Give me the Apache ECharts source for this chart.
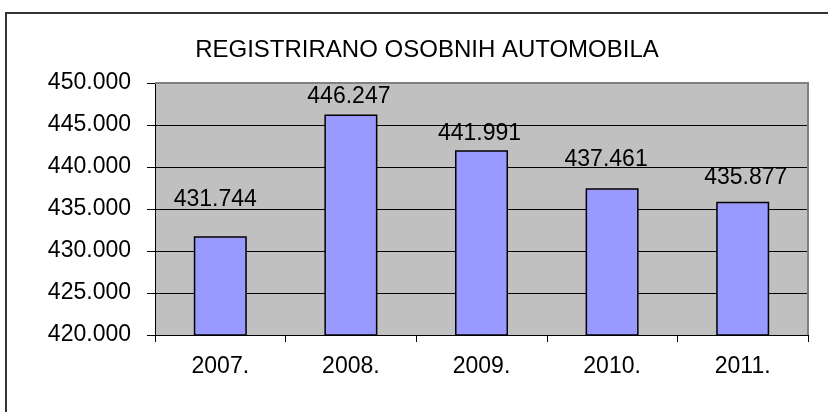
<!DOCTYPE html>
<html>
<head>
<meta charset="utf-8">
<script src="https://cdn.jsdelivr.net/npm/echarts@6/dist/echarts.min.js"></script>
<style>
  html, body { margin: 0; padding: 0; background: #ffffff; }
  #chart { width: 828px; height: 412px; }
</style>
</head>
<body>
<div id="chart"></div>
<script>
// Registered passenger cars per year
const years = ['2007.', '2008.', '2009.', '2010.', '2011.'];
const registered = [431744, 446247, 441991, 437461, 435877];
const yTicks = [420000, 425000, 430000, 435000, 440000, 445000, 450000];
const chartTitle = 'REGISTRIRANO OSOBNIH AUTOMOBILA';

// gap above each bar top and sideways shift of its value label (hand-placed labels)
const labelGap = [25, 6, 5, 17, 12];
const labelShiftX = [-5, -2, -2, -6, 3];

const FONT = '"Liberation Sans", Arial, sans-serif';

// thousands separated with a dot: 431744 -> "431.744"
function fmt(v) {
  const s = String(Math.round(v));
  return s.replace(/\B(?=(\d{3})+(?!\d))/g, '.');
}

const chart = echarts.init(document.getElementById('chart'), null, { renderer: 'canvas' });

const gridLeft = 155, gridTop = 83, gridW = 653, gridH = 252;

chart.setOption({
  animation: false,
  backgroundColor: '#ffffff',
  title: {
    text: chartTitle,
    left: 422,
    top: 33,
    textAlign: 'center',
    textStyle: { fontFamily: FONT, fontSize: 24, fontWeight: 'normal', color: '#000000' }
  },
  graphic: [
    {
      // outer frame of the chart area
      type: 'rect',
      shape: { x: 6, y: 13, width: 900, height: 500 },
      style: { fill: 'none', stroke: '#333333', lineWidth: 2 },
      silent: true
    },
    {
      // grey frame on the top and right of the plot
      type: 'polyline',
      shape: { points: [[gridLeft, gridTop], [gridLeft + gridW, gridTop], [gridLeft + gridW, gridTop + gridH]] },
      style: { stroke: '#808080', lineWidth: 2, fill: 'none' },
      z: 1,
      silent: true
    }
  ],
  grid: {
    left: gridLeft, top: gridTop, width: gridW, height: gridH,
    show: true, backgroundColor: '#c0c0c0', borderWidth: 0
  },
  xAxis: {
    type: 'category',
    data: years,
    boundaryGap: true,
    axisLine: { show: true, lineStyle: { color: '#000000', width: 1 } },
    axisTick: { show: true, length: 7, inside: false, lineStyle: { color: '#000000' } },
    axisLabel: { margin: 20, fontFamily: FONT, fontSize: 23, color: '#000000' },
    splitLine: { show: false }
  },
  yAxis: {
    type: 'value',
    min: yTicks[0],
    max: yTicks[yTicks.length - 1],
    interval: yTicks[1] - yTicks[0],
    axisLine: { show: true, lineStyle: { color: '#000000', width: 1 } },
    axisTick: { show: true, length: 8, lineStyle: { color: '#000000' } },
    axisLabel: { margin: 24, fontFamily: FONT, fontSize: 23, color: '#000000', formatter: fmt },
    splitLine: { show: true, lineStyle: { color: '#000000', width: 1 } }
  },
  series: [{
    type: 'bar',
    barWidth: 53,
    data: registered.map((v, i) => ({
      value: v,
      label: { distance: labelGap[i], offset: [labelShiftX[i], 0] }
    })),
    itemStyle: { color: '#9999ff', borderColor: '#000000', borderWidth: 1.5 },
    label: {
      show: true,
      position: 'top',
      fontFamily: FONT,
      fontSize: 23,
      color: '#000000',
      formatter: p => fmt(p.value)
    },
    z: 3
  }]
});
</script>
</body>
</html>
